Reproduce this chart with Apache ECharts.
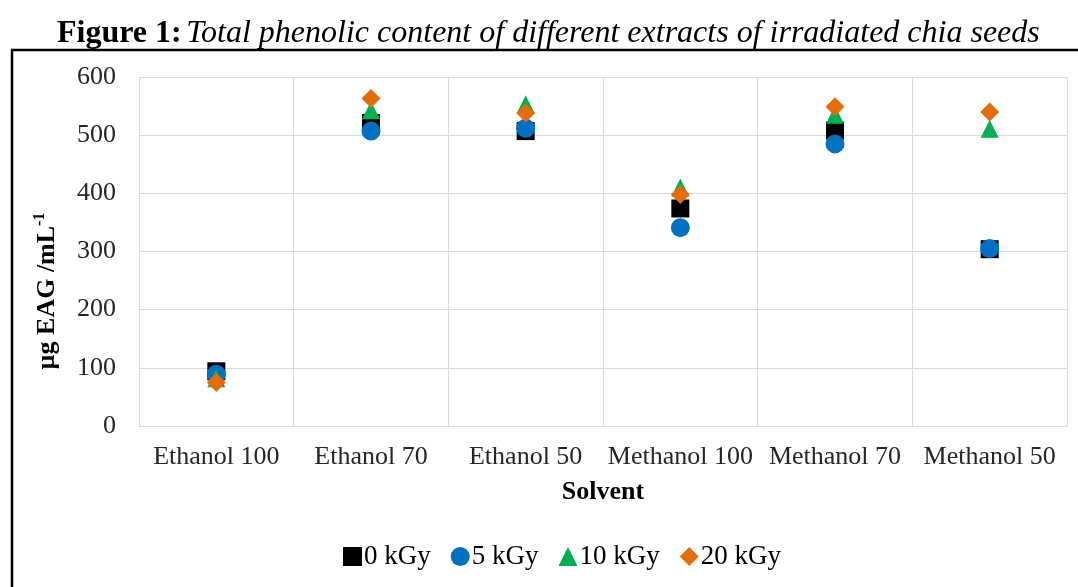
<!DOCTYPE html>
<html>
<head>
<meta charset="utf-8">
<script src="https://cdn.jsdelivr.net/npm/echarts@6/dist/echarts.min.js"></script>
<style>html,body{margin:0;padding:0;background:#fff}#c{width:1078px;height:587px}</style>
</head>
<body>
<div id="c"></div>
<script>
const categories = ['Ethanol 100', 'Ethanol 70', 'Ethanol 50', 'Methanol 100', 'Methanol 70', 'Methanol 50'];
const seriesNames = ['0 kGy', '5 kGy', '10 kGy', '20 kGy'];
const kGy0 = [94, 521, 507, 374, 508, 304];
const kGy5 = [89, 507, 512, 341, 485, 305];
const kGy10 = [82, 543, 553, 410, 535, 511];
const kGy20 = [75, 563, 538, 398, 549, 540];
const yTicks = { min: 0, max: 600, interval: 100 };

const FONT = '"Liberation Serif", "Times New Roman", serif';
const colors = ['#000000', '#0070C0', '#00B050', '#E46C0A'];
const symbols = ['rect', 'circle', 'triangle', 'diamond'];
const sizes = [18, 19, 18, 19];
const data = [kGy0, kGy5, kGy10, kGy20];

const chart = echarts.init(document.getElementById('c'), null, { renderer: 'canvas' });
chart.setOption({
  animation: false,
  textStyle: { fontFamily: FONT },
  title: {
    text: '{b|Figure 1:} {i|Total phenolic content of different extracts of irradiated chia seeds}',
    left: 52,
    top: 13,
    textStyle: {
      fontWeight: 'normal',
      rich: {
        b: { fontFamily: FONT, fontWeight: 'bold', fontSize: 32, color: '#000' },
        i: { fontFamily: FONT, fontStyle: 'italic', fontWeight: 'normal', fontSize: 32, color: '#000' }
      }
    }
  },
  graphic: [
    { type: 'line', shape: { x1: 11, y1: 50, x2: 1078, y2: 50 }, style: { stroke: '#000', lineWidth: 2.5 } },
    { type: 'line', shape: { x1: 12, y1: 50, x2: 12, y2: 587 }, style: { stroke: '#000', lineWidth: 2.5 } },
    {
      type: 'text', x: 47, y: 291, rotation: Math.PI / 2,
      style: {
        text: '{a|µg EAG /mL}{s|-1}',
        align: 'center', verticalAlign: 'middle',
        rich: {
          a: { fontFamily: FONT, fontWeight: 'bold', fontSize: 26, fill: '#000', lineHeight: 30 },
          s: { fontFamily: FONT, fontWeight: 'bold', fontSize: 16, fill: '#000', verticalAlign: 'top', lineHeight: 30, padding: [0, 0, 12, 0] }
        }
      }
    }
  ],
  legend: {
    top: 538,
    left: 338,
    itemWidth: 19,
    itemHeight: 19,
    itemGap: 20,
    textStyle: { fontFamily: FONT, fontSize: 27, color: '#000', padding: [0, 0, 0, -3] },
    data: seriesNames.map((n, i) => ({ name: n, icon: symbols[i] }))
  },
  grid: { left: 139, right: 11, top: 77, bottom: 161, containLabel: false },
  xAxis: {
    type: 'category',
    data: categories,
    boundaryGap: true,
    name: 'Solvent',
    nameLocation: 'middle',
    nameGap: 53,
    nameTextStyle: { fontFamily: FONT, fontWeight: 'bold', fontSize: 26, color: '#000', verticalAlign: 'top' },
    axisLine: { show: true, lineStyle: { color: '#d9d9d9', width: 1 } },
    axisTick: { show: false },
    axisLabel: { fontFamily: FONT, fontSize: 26, color: '#262626', margin: 18, interval: 0 },
    splitLine: { show: true, interval: 0, lineStyle: { color: '#d9d9d9', width: 1 } }
  },
  yAxis: {
    type: 'value',
    min: yTicks.min, max: yTicks.max, interval: yTicks.interval,
    axisLine: { show: false },
    axisTick: { show: false },
    axisLabel: { fontFamily: FONT, fontSize: 26, color: '#262626', margin: 23 },
    splitLine: { show: true, lineStyle: { color: '#d9d9d9', width: 1 } }
  },
  series: seriesNames.map((n, i) => ({
    name: n,
    type: 'scatter',
    symbol: symbols[i],
    symbolSize: sizes[i],
    itemStyle: { color: colors[i], opacity: 1 },
    data: data[i],
    z: 2 + i
  }))
});
</script>
</body>
</html>
